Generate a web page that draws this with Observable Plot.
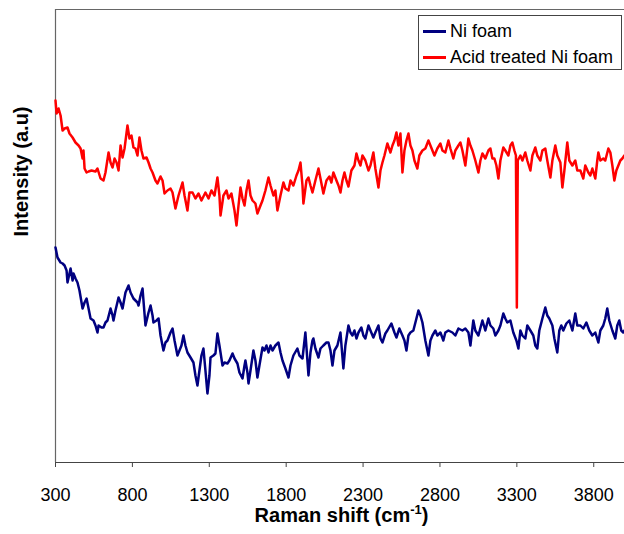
<!DOCTYPE html>
<html>
<head>
<meta charset="utf-8">
<script src="https://cdn.jsdelivr.net/npm/d3@7"></script>
<script src="https://cdn.jsdelivr.net/npm/@observablehq/plot@0.6"></script>
<style>
  html, body { margin: 0; padding: 0; background: #fff; }
  #wrap { position: relative; width: 624px; height: 534px; overflow: hidden; font-family: "Liberation Sans", Arial, sans-serif; }
  .legend { position: absolute; left: 418px; top: 15px; width: 204px; height: 55px; box-sizing: border-box; border: 1px solid #444; background: #fff; }
  .row { position: absolute; left: 0; height: 20px; display: flex; align-items: center; font-size: 18px; color: #000; white-space: nowrap; }
  .swatch { display: inline-block; width: 23px; height: 3px; margin-left: 4px; margin-right: 4px; }
</style>
</head>
<body>
<div id="wrap"></div>
<script>
const xTicks = [300, 800, 1300, 1800, 2300, 2800, 3300, 3800];
const seriesNames = ["Ni foam", "Acid treated Ni foam"];
const seriesColors = ["#000080", "#ff0000"];

// Ni foam (blue) — Raman shift (cm-1) and intensity (a.u.)
const niShift = [300,313,333,346,359,372,378,398,411,417,430,443,456,476,489,502,515,528,547,560,573,580,599,612,625,638,658,671,677,690,710,723,736,755,775,788,807,820,833,840,853,866,872,885,905,918,931,937,957,970,983,1002,1015,1028,1048,1061,1074,1093,1106,1119,1132,1145,1158,1178,1197,1210,1223,1236,1249,1262,1275,1288,1301,1308,1327,1340,1353,1366,1386,1399,1418,1431,1451,1464,1483,1496,1516,1529,1535,1548,1555,1568,1587,1600,1613,1626,1646,1659,1672,1685,1698,1711,1730,1750,1763,1776,1795,1815,1828,1847,1873,1886,1906,1925,1945,1958,1971,1977,1990,2010,2023,2042,2062,2075,2088,2101,2114,2133,2153,2172,2185,2205,2218,2231,2244,2257,2270,2289,2302,2315,2335,2348,2367,2380,2400,2413,2426,2445,2458,2484,2504,2517,2536,2556,2569,2582,2595,2608,2627,2647,2660,2673,2686,2705,2725,2738,2751,2770,2783,2803,2822,2835,2855,2881,2900,2920,2946,2965,2985,2998,3017,3030,3050,3076,3095,3115,3128,3147,3160,3180,3193,3212,3225,3238,3258,3277,3297,3310,3323,3336,3355,3368,3388,3407,3420,3433,3446,3466,3485,3498,3511,3531,3544,3563,3576,3589,3602,3622,3641,3661,3680,3693,3713,3732,3752,3771,3791,3810,3830,3843,3862,3875,3888,3901,3921,3940,3953,3966,3979,3992,3999];
const niIntensity = [215,205,200,199,197,192,180,194,182,189,184,180,172,154,160,164,154,144,142,137,130,137,135,135,140,142,154,147,142,152,165,160,154,170,177,170,164,162,160,157,167,174,162,137,150,157,147,140,142,144,127,112,120,122,130,134,122,107,112,117,127,117,110,105,100,87,77,92,107,114,92,69,87,105,107,109,129,117,97,100,99,102,109,104,99,90,84,97,102,90,79,92,112,102,85,97,115,112,117,110,117,112,117,120,110,102,94,85,97,107,114,107,104,130,87,110,122,124,114,105,114,117,120,120,112,97,112,117,130,94,117,137,130,127,132,124,130,135,127,124,137,132,125,130,137,124,120,129,132,139,130,125,134,127,122,112,127,130,132,144,152,147,140,122,107,122,127,132,127,130,122,130,132,130,127,134,132,134,130,117,142,132,127,142,132,144,137,134,127,132,137,149,144,140,142,130,122,114,132,127,124,137,132,127,117,114,132,144,155,147,144,137,124,110,132,137,132,139,142,132,149,137,137,134,140,132,127,130,120,132,137,144,154,142,132,124,137,142,132,130,132];

// Acid treated Ni foam (red)
const acidShift = [300,307,320,333,346,359,378,391,411,430,450,463,476,482,489,502,515,534,560,573,593,612,625,645,658,671,684,697,710,723,736,749,768,781,794,807,820,833,846,859,872,892,905,918,931,950,963,983,996,1009,1028,1048,1061,1080,1100,1126,1139,1158,1171,1191,1210,1230,1249,1275,1295,1314,1334,1353,1366,1373,1392,1412,1425,1444,1464,1477,1490,1503,1516,1529,1542,1555,1568,1581,1600,1613,1633,1646,1665,1685,1698,1717,1730,1743,1763,1782,1795,1815,1828,1847,1867,1880,1893,1906,1912,1932,1945,1958,1971,1990,2010,2023,2042,2062,2081,2094,2107,2127,2140,2153,2166,2179,2192,2205,2224,2244,2257,2270,2283,2296,2315,2335,2348,2367,2380,2400,2413,2426,2439,2458,2478,2491,2504,2517,2530,2543,2556,2569,2582,2595,2608,2621,2634,2653,2666,2686,2705,2725,2738,2751,2764,2783,2803,2816,2835,2855,2868,2887,2900,2920,2933,2946,2965,2978,2985,2998,3011,3030,3050,3063,3076,3095,3115,3128,3141,3154,3167,3180,3193,3212,3225,3245,3258,3271,3284,3294,3300,3306,3323,3336,3355,3368,3388,3401,3420,3433,3453,3466,3485,3498,3518,3531,3550,3563,3583,3596,3609,3628,3641,3661,3680,3693,3713,3732,3745,3765,3778,3791,3810,3823,3830,3843,3862,3875,3895,3908,3921,3934,3947,3960,3973,3986,3999];
const acidIntensity = [362,349,354,347,332,334,335,329,325,320,317,314,304,312,294,290,291,292,291,294,284,282,290,310,300,295,304,300,292,317,305,314,337,324,327,315,314,307,325,312,304,305,300,294,290,282,279,286,282,269,272,274,270,254,267,280,267,252,270,270,264,269,262,270,264,272,267,285,267,247,267,272,264,269,252,237,257,275,264,257,272,282,267,262,259,249,257,262,272,285,277,267,272,252,267,280,274,272,282,277,287,292,300,277,259,282,285,277,270,282,294,284,269,282,286,280,290,282,277,270,282,290,282,276,292,297,309,302,297,307,302,292,297,310,294,275,292,300,307,319,310,317,322,330,317,329,290,312,322,329,317,312,302,294,307,312,314,322,317,312,307,314,319,312,310,322,314,304,312,317,320,312,297,314,324,317,312,302,290,302,309,304,312,314,304,304,297,284,302,315,312,307,317,320,312,307,155,302,307,302,310,302,292,307,315,307,302,312,314,302,285,302,317,307,300,275,292,320,302,297,302,292,292,284,297,290,287,294,284,302,310,302,304,302,314,310,297,282,292,297,302,304,307];

const niData = niShift.map((s, i) => ({shift: s, intensity: niIntensity[i]}));
const acidData = acidShift.map((s, i) => ({shift: s, intensity: acidIntensity[i]}));

const chart = Plot.plot({
  width: 624,
  height: 534,
  marginLeft: 55,
  marginRight: 0,
  marginTop: 9,
  marginBottom: 72,
  style: { fontFamily: "'Liberation Sans', Arial, sans-serif", background: "#fff", color: "#000", overflow: "hidden" },
  x: { domain: [300, 4000] },
  y: { domain: [0, 453], axis: null },
  marks: [
    Plot.ruleY([453], { stroke: "#666", strokeWidth: 1.2 }),
    Plot.ruleX([300], { stroke: "#666", strokeWidth: 1.2 }),
    Plot.ruleY([0], { stroke: "#444", strokeWidth: 1.2 }),
    Plot.axisX({ ticks: xTicks, tickSize: 5, tickPadding: 21, fontSize: 18, label: null, tickFormat: d => String(d), stroke: "#444" }),
    Plot.line(niData, { x: "shift", y: "intensity", stroke: seriesColors[0], strokeWidth: 2.5 }),
    Plot.line(acidData, { x: "shift", y: "intensity", stroke: seriesColors[1], strokeWidth: 2.5 }),
    Plot.text(["Raman shift (cm-1)"], { frameAnchor: "bottom", dy: 59, dx: 1.5, fontSize: 20, fontWeight: "bold", fill: "#000" }),
    Plot.text(["Intensity (a.u)"], { frameAnchor: "left", rotate: -90, dx: -34, dy: 0.5, fontSize: 20, fontWeight: "bold", fill: "#000" })
  ]
});

// superscript for cm^-1
d3.select(chart).selectAll("text").filter(function() { return this.textContent === "Raman shift (cm-1)"; })
  .each(function() {
    const t = d3.select(this);
    t.text("Raman shift (cm");
    t.append("tspan").attr("font-size", 13).attr("dy", "-8").text("-1");
    t.append("tspan").attr("dy", "8").text(")");
  });

const wrap = document.getElementById("wrap");
wrap.appendChild(chart);

const legend = document.createElement("div");
legend.className = "legend";
seriesNames.forEach((name, i) => {
  const row = document.createElement("div");
  row.className = "row";
  row.style.top = (i === 0 ? 5 : 31) + "px";
  const sw = document.createElement("span");
  sw.className = "swatch";
  sw.style.background = seriesColors[i];
  row.appendChild(sw);
  row.appendChild(document.createTextNode(name));
  legend.appendChild(row);
});
wrap.appendChild(legend);
</script>
</body>
</html>
